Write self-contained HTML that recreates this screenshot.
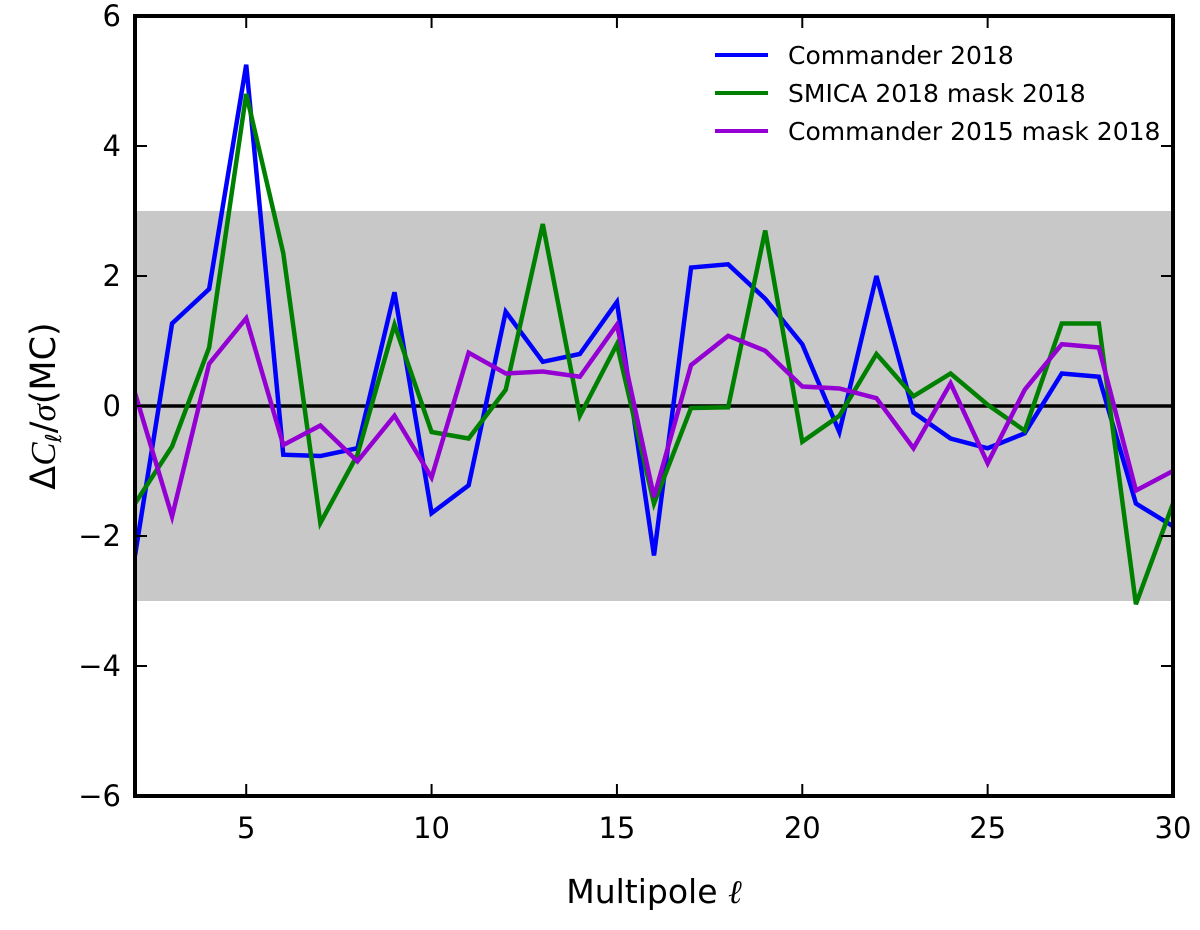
<!DOCTYPE html>
<html><head><meta charset="utf-8"><style>
body{margin:0;background:#fff}
svg text{font-family:"DejaVu Sans","Liberation Sans",sans-serif}
</style></head><body>
<svg id="chart" width="1200" height="925" xmlns="http://www.w3.org/2000/svg">
<g id="plot"></g>
</svg>
<script>
const ells=[2,3,4,5,6,7,8,9,10,11,12,13,14,15,16,17,18,19,20,21,22,23,24,25,26,27,28,29,30];
const commander2018=[-2.3,1.27,1.8,5.25,-0.75,-0.77,-0.65,1.75,-1.65,-1.22,1.45,0.68,0.8,1.6,-2.3,2.13,2.18,1.65,0.95,-0.4,2.0,-0.1,-0.5,-0.65,-0.42,0.5,0.45,-1.5,-1.85];
const smica2018=[-1.5,-0.62,0.9,4.8,2.35,-1.8,-0.75,1.25,-0.4,-0.5,0.25,2.8,-0.15,0.95,-1.5,-0.03,-0.02,2.7,-0.55,-0.15,0.8,0.15,0.5,0.02,-0.38,1.27,1.27,-3.05,-1.5];
const commander2015=[0.2,-1.7,0.65,1.35,-0.6,-0.3,-0.85,-0.15,-1.1,0.82,0.5,0.53,0.45,1.25,-1.4,0.63,1.08,0.85,0.3,0.27,0.12,-0.65,0.35,-0.88,0.25,0.95,0.9,-1.3,-1.0];
const xTicks=[5,10,15,20,25,30];
const yTicks=[-6,-4,-2,0,2,4,6];
const band=[-3,3];

const L=135,R=1173,T=16,B=796;
const xs=v=>L+(v-2)/(30-2)*(R-L);
const ys=v=>B-(v+6)/12*(B-T);
const g=document.getElementById('plot');
const NS='http://www.w3.org/2000/svg';
function mk(t,a){const e=document.createElementNS(NS,t);for(const k in a)e.setAttribute(k,a[k]);g.appendChild(e);return e;}

const defs=mk('defs',{});
const cp=document.createElementNS(NS,'clipPath');cp.setAttribute('id','clip');
const cr=document.createElementNS(NS,'rect');cr.setAttribute('x',L);cr.setAttribute('y',T);cr.setAttribute('width',R-L);cr.setAttribute('height',B-T);
cp.appendChild(cr);defs.appendChild(cp);

let r=mk('rect',{x:L,y:ys(band[1]),width:R-L,height:ys(band[0])-ys(band[1]),fill:'#c8c8c8'});


let z=mk('line',{x1:L,x2:R,y1:ys(0),y2:ys(0),stroke:'#000','stroke-width':3.5});



const series=[[commander2018,'#0000ff','commander-2018-line'],[smica2018,'#008000','smica-2018-line'],[commander2015,'#9400d3','commander-2015-line']];
for(const [d,c,n] of series){
  const p=mk('polyline',{points:d.map((v,i)=>xs(ells[i])+','+ys(v)).join(' '),fill:'none',stroke:c,'stroke-width':4.5,'stroke-linejoin':'miter','clip-path':'url(#clip)'});
  
  
}
const fr=mk('rect',{x:L,y:T,width:R-L,height:B-T,fill:'none',stroke:'#000','stroke-width':4});



for(const t of xTicks){
  const x=xs(t);
  mk('line',{x1:x,x2:x,y1:B,y2:B-12,stroke:'#000','stroke-width':2});
  mk('line',{x1:x,x2:x,y1:T,y2:T+12,stroke:'#000','stroke-width':2});
  const tx=mk('text',{x:x,y:B+42,'font-size':29,'text-anchor':'middle'});tx.textContent=t;
  
  
}
for(const t of yTicks){
  const y=ys(t);
  mk('line',{x1:L,x2:L+12,y1:y,y2:y,stroke:'#000','stroke-width':2});
  mk('line',{x1:R,x2:R-12,y1:y,y2:y,stroke:'#000','stroke-width':2});
  const tx=mk('text',{x:L-14,y:y+10,'font-size':29,'text-anchor':'end'});tx.textContent=t<0?'\u2212'+(-t):t;
  
  
}
let xl=mk('text',{x:654,y:903,'font-size':33,'text-anchor':'middle'});xl.innerHTML='Multipole <tspan font-style="italic" font-family="Liberation Serif">ℓ</tspan>';


let yl=mk('text',{x:0,y:0,'font-size':35,'text-anchor':'middle',transform:'translate(55,406) rotate(-90)'});
yl.innerHTML='Δ<tspan font-style="italic" font-family="Liberation Serif">C</tspan><tspan font-size="22" font-style="italic" dy="6">ℓ</tspan><tspan dy="-6">/</tspan><tspan font-style="italic" font-family="Liberation Serif">σ</tspan>(MC)';



const labels=['Commander 2018','SMICA 2018 mask 2018','Commander 2015 mask 2018'];
series.forEach(([d,c,n],i)=>{
  const y=55+i*38;
  const ln=mk('line',{x1:715,x2:768,y1:y,y2:y,stroke:c,'stroke-width':4});
  
  
  const t=mk('text',{x:788,y:y+9,'font-size':25});t.textContent=labels[i];
  
  
});
</script>
</body></html>
